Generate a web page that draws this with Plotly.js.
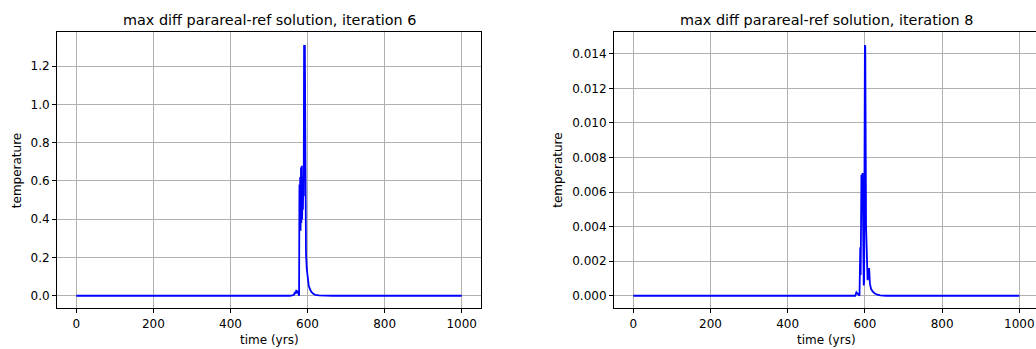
<!DOCTYPE html>
<html>
<head>
<meta charset="utf-8">
<script src="https://cdn.plot.ly/plotly-3.0.1.min.js"></script>
<style>
  html, body { margin: 0; padding: 0; background: #ffffff; overflow: hidden; }
  #chart { width: 1036px; height: 349px; }
</style>
</head>
<body>
<div id="chart"></div>
<script>
// ---- data ----
// iteration 6
const time6 = [0, 555, 565, 567, 569, 571, 573, 575, 577, 578, 579, 580, 581, 582, 583, 584, 585, 586, 587, 588, 589, 590, 591, 592, 593, 594, 595, 596, 598, 600, 603, 606, 610, 615, 620, 630, 645, 665, 1000];
const diff6 = [0, 0, 0.005, 0.02, 0.01, 0.03, 0.015, 0.025, 0.005, 0.0, 0.58, 0.5, 0.62, 0.34, 0.67, 0.38, 0.68, 0.4, 0.62, 0.45, 0.6, 0.52, 1.31, 0.9, 1.31, 0.4, 0.3, 0.22, 0.14, 0.09, 0.055, 0.035, 0.02, 0.01, 0.005, 0.002, 0.0005, 0, 0];
// iteration 8
const time8 = [0, 575, 578, 580, 582, 584, 586, 588, 589, 591, 592, 594, 595, 597, 598, 600, 601, 603, 605, 607, 609, 611, 613, 616, 620, 625, 632, 640, 655, 1000];
const diff8 = [0, 0, 0.0002, 0.00015, 0.0001, 0.0, 0.0, 0.0028, 0.0012, 0.0070, 0.0065, 0.0071, 0.0030, 0.0006, 0.0008, 0.0145, 0.0144, 0.0040, 0.0015, 0.0009, 0.0012, 0.0016, 0.0007, 0.0004, 0.00025, 0.00014, 0.00006, 0.00002, 0, 0];

const titles = ["max diff parareal-ref solution, iteration 6", "max diff parareal-ref solution, iteration 8"];
const xLabel = "time (yrs)";
const yLabel = "temperature";
const xTicks = [0, 200, 400, 600, 800, 1000];

// ---- layout helpers ----
const W = 1036, H = 349;
const FONT = "DejaVu Sans, Liberation Sans, sans-serif";
const px = v => v / W;
const py = v => (H - v) / H;

const axisCommon = {
  showline: true, linecolor: "#000", linewidth: 1,
  ticks: "outside", ticklen: 4, tickwidth: 1, tickcolor: "#000",
  showgrid: true, gridcolor: "#b0b0b0", gridwidth: 1,
  zeroline: false,
  tickfont: { family: FONT, size: 12, color: "#000" },
  fixedrange: true
};

const traces = [
  { x: time6, y: diff6, type: "scatter", mode: "lines", line: { color: "#0000ff", width: 1.8 }, xaxis: "x", yaxis: "y", hoverinfo: "skip" },
  { x: time8, y: diff8, type: "scatter", mode: "lines", line: { color: "#0000ff", width: 1.8 }, xaxis: "x2", yaxis: "y2", hoverinfo: "skip" }
];

const yDom = [py(308.3), py(32.3)];

const layout = {
  width: W, height: H,
  margin: { l: 0, r: 0, t: 0, b: 0 },
  paper_bgcolor: "#fff", plot_bgcolor: "#fff",
  showlegend: false,
  font: { family: FONT, size: 12, color: "#000" },
  xaxis: Object.assign({}, axisCommon, { domain: [px(57), px(481)], range: [-50, 1050], tickvals: xTicks, mirror: true, anchor: "y" }),
  yaxis: Object.assign({}, axisCommon, { domain: yDom, range: [-0.0656, 1.377], dtick: 0.2, tick0: 0, tickformat: ".1f", mirror: true, anchor: "x" }),
  xaxis2: Object.assign({}, axisCommon, { domain: [px(614), 1], range: [-50, 1043.3], tickvals: xTicks, mirror: true, anchor: "y2" }),
  yaxis2: Object.assign({}, axisCommon, { domain: yDom, range: [-0.000726, 0.01524], dtick: 0.002, tick0: 0, tickformat: ".3f", mirror: false, anchor: "x2" }),
  annotations: [
    { text: titles[0], xref: "paper", yref: "paper", x: px(269), y: py(20), xanchor: "center", yanchor: "middle", showarrow: false, font: { family: FONT, size: 14.4, color: "#000" } },
    { text: titles[1], xref: "paper", yref: "paper", x: px(826.3), y: py(20), xanchor: "center", yanchor: "middle", showarrow: false, font: { family: FONT, size: 14.4, color: "#000" } },
    { text: xLabel, xref: "paper", yref: "paper", x: px(269), y: py(340), xanchor: "center", yanchor: "middle", showarrow: false, font: { family: FONT, size: 12, color: "#000" } },
    { text: xLabel, xref: "paper", yref: "paper", x: px(826.3), y: py(340), xanchor: "center", yanchor: "middle", showarrow: false, font: { family: FONT, size: 12, color: "#000" } },
    { text: yLabel, xref: "paper", yref: "paper", x: px(16.7), y: py(170.5), xanchor: "center", yanchor: "middle", textangle: -90, showarrow: false, font: { family: FONT, size: 12, color: "#000" } },
    { text: yLabel, xref: "paper", yref: "paper", x: px(557.3), y: py(170.5), xanchor: "center", yanchor: "middle", textangle: -90, showarrow: false, font: { family: FONT, size: 12, color: "#000" } }
  ]
};

Plotly.newPlot("chart", traces, layout, { staticPlot: true, displayModeBar: false });
</script>
</body>
</html>
